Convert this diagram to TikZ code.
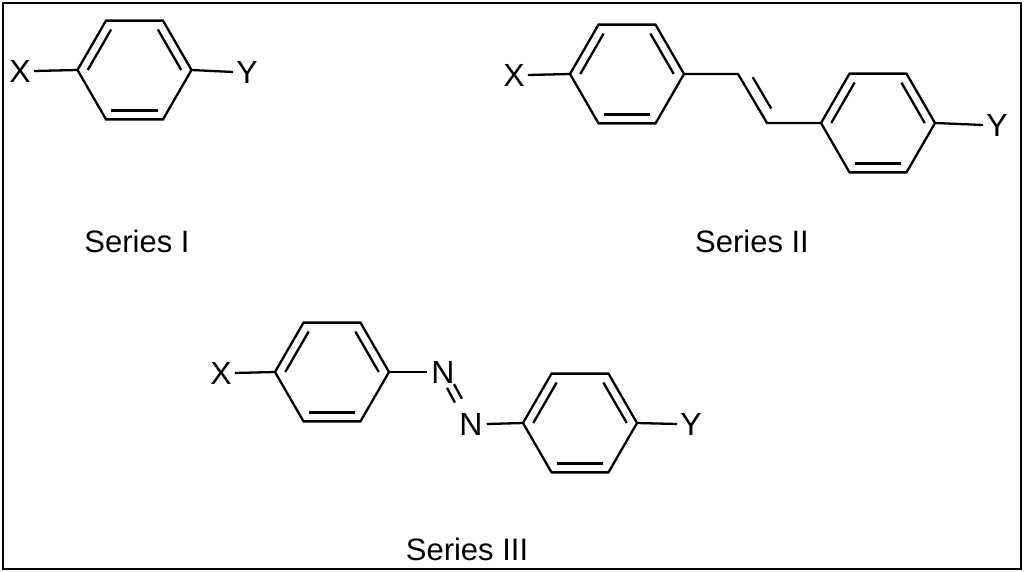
\documentclass[tikz,border=0pt]{standalone}
\usepackage{fontspec}
\setmainfont{Liberation Sans}
\usetikzlibrary{calc}
\tikzset{bond/.style={line width=2.3pt,line cap=butt,line join=miter},
 atom/.style={inner sep=0pt,font=\fontsize{32}{34}\selectfont},
 lbl/.style={inner sep=0pt,font=\fontsize{31}{34}\selectfont}}
\newcommand{\benz}[3]{%
 \foreach \i in {0,...,5}{\coordinate (#1\i) at ($(#2,#3)+(\i*60:57)$);}
 \coordinate (#1c) at (#2,#3);
 \draw[bond] (#10)--(#11)--(#12)--(#13)--(#14)--(#15)--cycle;
 \draw[bond] ($(#1c)!0.82!(#11)$)--($(#1c)!0.82!(#12)$);
 \draw[bond] ($(#1c)!0.82!(#13)$)--($(#1c)!0.82!(#14)$);
 \draw[bond] ($(#1c)!0.82!(#15)$)--($(#1c)!0.82!(#10)$);}
\begin{document}
\begin{tikzpicture}[x=1pt,y=-1pt]
\useasboundingbox (0,0) rectangle (1024,572);
\draw[line width=2pt] (3,3) rectangle (1021,569);
% Series I
\benz{a}{134.5}{70}
\node[atom] (aX) at (20,71) {X};
\node[atom] (aY) at (247,72) {Y};
\draw[bond] (aX.east)++(3,0) -- (a3);
\draw[bond] (a0) -- ([xshift=-3pt]aY.west);
\node[lbl] (l1) at (137,241) {Series I};
% Series II
\benz{b}{627}{74}
\benz{c}{878}{123}
\node[atom] (bX) at (514,75) {X};
\node[atom] (cY) at (997,125) {Y};
\draw[bond] ([xshift=3pt]bX.east) -- (b3);
\draw[bond] (c0) -- ([xshift=-3pt]cY.west);
\coordinate (v1) at (738,74);
\coordinate (v2) at (767,123);
\draw[bond] (b0)--(v1)--(v2)--(c3);
\draw[bond] ($(v1)!0.18!(v2)!11pt!90:(v2)$) -- ($(v2)!0.18!(v1)!11pt!-90:(v1)$);
\node[lbl] (l2) at (752,241) {Series II};
% Series III
\benz{d}{332}{372}
\benz{e}{580}{423}
\node[atom] (dX) at (221,373) {X};
\node[atom] (eY) at (691,424) {Y};
\node[atom] (N1) at (443,372) {N};
\node[atom] (N2) at (471,424) {N};
\draw[bond] ([xshift=3pt]dX.east) -- (d3);
\draw[bond] (d0) -- ([xshift=-4pt]N1.west);
\draw[bond] ([xshift=4pt]N2.east) -- (e3);
\draw[bond] (e0) -- ([xshift=-3pt]eY.west);
\draw[bond] ($(N1)!0.27!(N2)!4pt!90:(N2)$) -- ($(N1)!0.55!(N2)!4pt!90:(N2)$);
\draw[bond] ($(N1)!0.27!(N2)!4pt!-90:(N2)$) -- ($(N1)!0.55!(N2)!4pt!-90:(N2)$);
\node[lbl] (l3) at (467,549) {Series III};
\end{tikzpicture}
\end{document}
